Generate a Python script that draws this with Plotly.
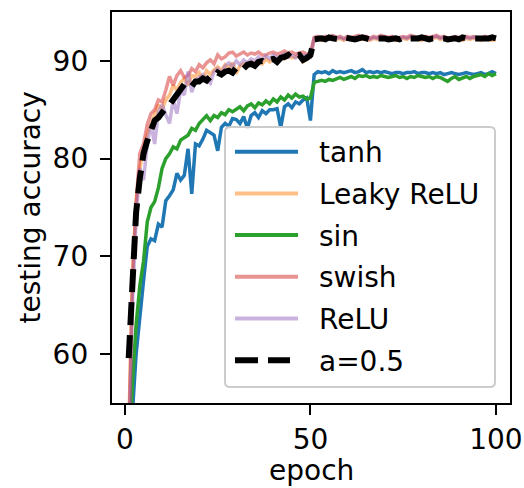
import plotly.graph_objects as go

epochs = list(range(1, 101))

tanh = [45.0, 54.0, 60.0, 64.0, 67.5, 71.0, 71.8, 71.6, 73.3, 73.0,
        75.7, 76.2, 76.8, 78.5, 77.8, 78.3, 81.0, 76.4, 81.5, 81.3,
        82.0, 82.9, 82.7, 82.4, 80.8, 83.2, 83.6, 83.3, 84.1, 84.0,
        83.6, 84.3, 83.1, 84.4, 84.7, 84.2, 84.9, 84.6, 85.0, 85.0,
        85.1, 83.2, 85.3, 85.6, 85.2, 85.8, 85.6, 86.0, 86.2, 83.9,
        88.6, 88.9, 88.8, 88.9, 88.7, 89.0, 88.8, 88.9, 88.8, 88.9,
        89.0, 88.8, 88.9, 89.1, 88.8, 88.9, 88.8, 88.9, 88.8, 88.9,
        88.8, 88.7, 88.8, 88.8, 88.7, 88.8, 88.8, 88.9, 88.7, 88.8,
        88.8, 88.7, 88.8, 88.7, 88.8, 88.6, 88.7, 88.8, 88.7, 88.6,
        88.7, 88.8, 88.7, 88.6, 88.7, 88.8, 88.6, 88.7, 88.9, 88.7]

leaky_relu = [52.0, 68.0, 75.5, 79.0, 81.0, 82.5, 83.5, 84.5, 85.5, 85.0,
              86.0, 86.5, 87.5, 87.0, 87.8, 88.2, 87.5, 88.5, 88.4, 88.8,
              88.0, 89.0, 88.6, 89.1, 89.4, 89.0, 89.6, 89.3, 89.8, 88.7,
              89.5, 89.7, 89.4, 89.9, 89.8, 90.0, 89.7, 90.2, 89.9, 90.3,
              90.1, 90.4, 90.2, 90.5, 90.3, 90.4, 90.6, 89.9, 90.2, 90.4,
              92.2, 92.3, 92.1, 92.3, 92.2, 92.4, 92.2, 92.3, 92.1, 92.3,
              92.2, 92.3, 92.4, 92.2, 92.3, 92.1, 92.3, 92.2, 92.4, 92.3,
              92.2, 92.3, 92.1, 92.2, 92.3, 92.2, 92.4, 92.3, 92.2, 92.1,
              92.3, 92.2, 92.3, 92.4, 92.2, 92.3, 92.1, 92.2, 92.3, 92.2,
              92.1, 92.3, 92.2, 92.3, 92.2, 92.1, 92.3, 92.2, 92.1, 92.2]

sin = [48.0, 57.0, 63.0, 67.0, 69.5, 73.5, 75.0, 75.6, 77.0, 79.0,
       80.0, 80.5, 81.2, 81.0, 81.9, 82.2, 82.4, 83.1, 82.9, 83.6,
       84.0, 84.4, 83.9, 84.4, 84.2, 84.7, 84.5, 85.0, 84.8, 85.0,
       85.3, 84.9, 85.4, 85.6, 85.2, 85.7, 85.5, 85.9, 85.6, 86.1,
       85.8, 86.3, 86.0, 86.5, 86.2, 86.6, 86.3, 86.4, 86.1, 86.2,
       87.8, 87.9, 88.0, 87.9, 88.1, 88.0, 88.2, 88.3, 88.1, 88.3,
       88.4, 88.2, 88.5, 88.4, 88.5, 88.3, 88.4, 88.3, 88.5, 88.4,
       88.3, 88.4, 88.5, 88.3, 88.4, 88.2, 88.4, 88.3, 88.5, 88.4,
       88.3, 88.4, 88.2, 88.4, 88.3, 88.1, 87.9, 88.2, 88.4, 88.1,
       88.3, 88.4, 88.2, 88.4, 88.5, 88.6, 88.4, 88.7, 88.5, 88.7]

swish = [50.0, 67.5, 75.5, 80.5, 81.5, 83.5, 84.6, 85.0, 86.0, 85.8,
         87.0, 88.4, 87.5, 88.5, 89.0, 88.3, 88.5, 89.2, 88.9, 89.6,
         89.3, 89.8, 90.1, 89.7, 90.6, 90.2, 90.4, 90.8, 90.9, 90.5,
         90.7, 90.9, 90.6, 90.8, 90.7, 90.9, 90.6, 90.6, 90.8, 90.9,
         90.7, 90.8, 91.0, 90.8, 90.9, 90.7, 90.8, 90.9, 90.7, 90.8,
         92.4, 92.5, 92.3, 92.5, 92.4, 92.6, 92.4, 92.5, 92.3, 92.5,
         92.4, 92.5, 92.6, 92.4, 92.5, 92.3, 92.5, 92.4, 92.6, 92.5,
         92.4, 92.5, 92.3, 92.4, 92.5, 92.4, 92.6, 92.5, 92.4, 92.3,
         92.5, 92.4, 92.5, 92.6, 92.4, 92.5, 92.3, 92.4, 92.5, 92.4,
         92.3, 92.5, 92.4, 92.5, 92.4, 92.3, 92.5, 92.4, 92.5, 92.4]

relu = [50.0, 65.0, 74.0, 79.0, 77.8, 81.5, 83.5, 81.5, 84.8, 85.5,
        84.5, 83.6, 86.0, 84.6, 87.0, 86.5, 88.9, 86.8, 88.0, 88.3,
        88.6, 88.0, 87.7, 88.9, 89.2, 88.7, 89.5, 89.8, 89.4, 90.0,
        89.6, 90.1, 89.8, 90.2, 90.0, 90.4, 90.1, 90.5, 90.2, 90.6,
        90.3, 90.5, 90.7, 90.4, 90.6, 90.3, 90.7, 90.5, 90.6, 90.4,
        92.3, 92.4, 92.2, 92.4, 92.3, 92.5, 92.3, 92.4, 92.2, 92.4,
        92.3, 92.4, 92.5, 92.3, 92.4, 92.2, 92.4, 92.3, 92.5, 92.4,
        92.3, 92.4, 92.2, 92.3, 92.4, 92.3, 92.5, 92.4, 92.3, 92.2,
        92.4, 92.3, 92.4, 92.5, 92.3, 92.4, 92.2, 92.3, 92.4, 92.3,
        92.2, 92.4, 92.3, 92.4, 92.3, 92.2, 92.4, 92.3, 92.4, 92.3]

a_half = [59.6, 68.5, 74.5, 78.0, 80.5, 81.8, 83.0, 83.9, 84.2, 84.8,
          85.2, 85.5, 86.0, 86.6, 87.1, 87.6, 87.8, 87.4, 87.9, 87.9,
          88.2, 88.0, 88.4, 88.3, 88.8, 88.6, 88.9, 89.0, 88.8, 89.3,
          89.5, 89.2, 89.6, 89.7, 89.5, 89.9, 90.0, 89.8, 90.1, 90.2,
          89.9, 90.3, 90.4, 90.6, 90.2, 90.5, 90.6, 90.1, 90.3, 90.6,
          92.2, 92.3, 92.3, 92.2, 92.4, 92.3, 92.3, 92.2, 92.4, 92.3,
          92.3, 92.2, 92.3, 92.4, 92.3, 92.2, 92.3, 92.3, 92.4, 92.3,
          92.2, 92.3, 92.3, 92.2, 92.4, 92.3, 92.3, 92.2, 92.3, 92.4,
          92.3, 92.2, 92.3, 92.3, 92.4, 92.3, 92.2, 92.3, 92.3, 92.2,
          92.4, 92.3, 92.3, 92.2, 92.3, 92.3, 92.2, 92.3, 92.4, 92.3]

series = [
    ("tanh", tanh, "#1f77b4", "solid", 3.5),
    ("Leaky ReLU", leaky_relu, "rgba(255,127,14,0.5)", "solid", 3.5),
    ("sin", sin, "#2ca02c", "solid", 3.5),
    ("swish", swish, "rgba(214,39,40,0.5)", "solid", 3.5),
    ("ReLU", relu, "rgba(148,103,189,0.5)", "solid", 3.5),
    ("a=0.5", a_half, "#000000", "23px,10px", 6),
]

x_ticks = [0, 50, 100]
y_ticks = [60, 70, 80, 90]

FONT = "DejaVu Sans"
FS = 28
W, H = 524, 488
L, R, T, B = 112, 14, 12, 85

fig = go.Figure()
for name, vals, color, dash, width in series:
    fig.add_trace(go.Scatter(x=epochs, y=vals, mode="lines", name=name,
                             line=dict(color=color, width=width, dash=dash),
                             showlegend=False))

def px(xp):
    return (xp - L) / (W - L - R)

def py(yp):
    return (H - B - yp) / (H - T - B)

# legend frame (rounded)
x0, x1, y0, y1, r = 225, 495, 127, 387, 5
path = (f"M{px(x0 + r)},{py(y0)} L{px(x1 - r)},{py(y0)} "
        f"Q{px(x1)},{py(y0)} {px(x1)},{py(y0 + r)} "
        f"L{px(x1)},{py(y1 - r)} Q{px(x1)},{py(y1)} {px(x1 - r)},{py(y1)} "
        f"L{px(x0 + r)},{py(y1)} Q{px(x0)},{py(y1)} {px(x0)},{py(y1 - r)} "
        f"L{px(x0)},{py(y0 + r)} Q{px(x0)},{py(y0)} {px(x0 + r)},{py(y0)} Z")
shapes = [dict(type="path", xref="paper", yref="paper", path=path,
               fillcolor="rgba(255,255,255,0.8)",
               line=dict(color="#cccccc", width=2), layer="above")]
annotations = []
row0, step = 151.7, 41.7
for i, (name, vals, color, dash, width) in enumerate(series):
    yy = row0 + i * step
    xe = 290 if dash != "solid" else 298
    shapes.append(dict(type="line", xref="paper", yref="paper",
                       x0=px(235), x1=px(xe), y0=py(yy), y1=py(yy),
                       line=dict(color=color, width=width if dash != "solid" else 4, dash=dash),
                       layer="above"))
    annotations.append(dict(xref="paper", yref="paper", x=px(317), y=py(yy + 1),
                            text=name, showarrow=False, xanchor="left",
                            yanchor="middle",
                            font=dict(family=FONT, size=FS, color="#000000")))

# axis titles
annotations.append(dict(xref="paper", yref="paper", x=px(311), y=py(471),
                        text="epoch", showarrow=False, xanchor="center", yanchor="middle",
                        font=dict(family=FONT, size=FS, color="#000000")))
annotations.append(dict(xref="paper", yref="paper", x=px(30), y=py(207.5),
                        text="testing accuracy", showarrow=False, textangle=-90,
                        xanchor="center", yanchor="middle",
                        font=dict(family=FONT, size=FS, color="#000000")))

axis_common = dict(showgrid=False, zeroline=False, showline=True, mirror=True,
                   linecolor="#000000", linewidth=2.3, ticks="outside",
                   ticklen=10, tickwidth=2.3, tickcolor="#000000", automargin=False,
                   tickfont=dict(family=FONT, size=FS, color="#000000"))

fig.update_layout(
    width=W, height=H,
    margin=dict(l=L, r=R, t=T, b=B),
    paper_bgcolor="white", plot_bgcolor="white",
    shapes=shapes, annotations=annotations,
    xaxis=dict(range=[-3.5, 103.8], tickvals=x_ticks, **axis_common),
    yaxis=dict(range=[55, 95], tickvals=y_ticks, ticklabelstandoff=6, **axis_common),
)

fig.write_html("out.html", config={"displayModeBar": False},
               post_script="document.body.style.margin='0';")
